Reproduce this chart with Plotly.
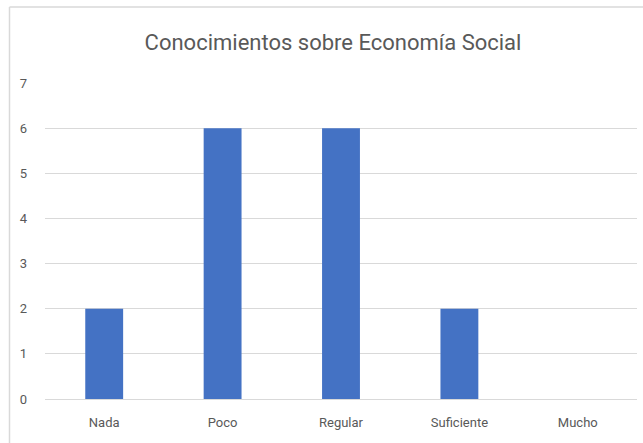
import plotly.graph_objects as go

categories = ["Nada", "Poco", "Regular", "Suficiente", "Mucho"]
values = [2, 6, 6, 2, 0]
y_ticks = [0, 1, 2, 3, 4, 5, 6, 7]

W, H = 643, 443
ml, mr, mt, mb = 45, 6, 83, 44
pw = W - ml - mr
ph = H - mt - mb

def px_x(px):
    return (px - ml) / pw

def px_y(py):
    return (H - mb - py) / ph

font_family = "Roboto, sans-serif"
grey = "#595959"

fig = go.Figure(go.Bar(x=categories, y=values, marker_color="#4472C4",
                       marker_line_width=0))

fig.update_layout(
    width=W, height=H,
    margin=dict(l=ml, r=mr, t=mt, b=mb, autoexpand=False),
    paper_bgcolor="white", plot_bgcolor="white",
    bargap=0.68,
    showlegend=False,
    title=dict(text="Conocimientos sobre Economía Social", x=333 / W, xanchor="center",
               y=1 - 42 / H, yanchor="middle",
               font=dict(family=font_family, size=22, color=grey)),
    font=dict(family=font_family, size=13, color=grey),
    xaxis=dict(showgrid=False, showline=False, ticks="", ticklabelstandoff=14,
               automargin=False, tickfont=dict(size=13, color=grey)),
    yaxis=dict(range=[0, 7], tickvals=y_ticks, showgrid=True, gridcolor="#d9d9d9",
               gridwidth=1, zeroline=True, zerolinecolor="#d9d9d9", zerolinewidth=1,
               showline=False, ticks="", ticklabelstandoff=17, automargin=False,
               tickfont=dict(size=13, color=grey)),
    shapes=[
        dict(type="line", xref="paper", yref="paper", x0=px_x(9.5), x1=px_x(9.5),
             y0=px_y(7), y1=px_y(450), line=dict(color="#d9d9d9", width=1.5)),
        dict(type="line", xref="paper", yref="paper", x0=px_x(9.5), x1=px_x(650),
             y0=px_y(7), y1=px_y(7), line=dict(color="#d9d9d9", width=1.5)),
    ],
)

fig.write_html("out.html", config={"displayModeBar": False},
               post_script="document.body.style.margin='0';document.body.style.overflow='hidden';")
